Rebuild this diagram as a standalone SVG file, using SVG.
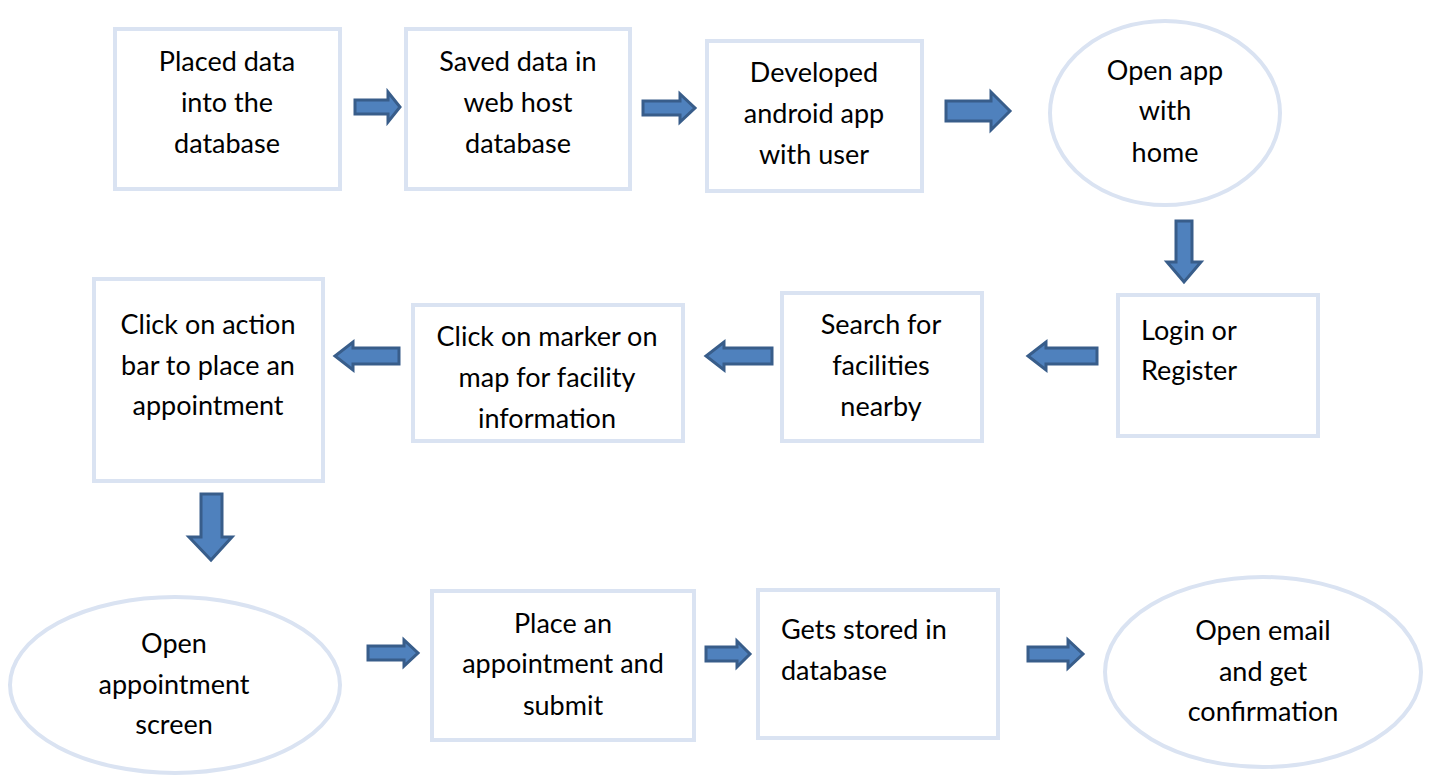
<svg xmlns="http://www.w3.org/2000/svg" width="1430" height="777" viewBox="0 0 1430 777">
<style>
.b{fill:#fff;stroke:#dae3f2;stroke-width:4}
.a{fill:#4f81bd;stroke:#385d8a;stroke-width:3;stroke-linejoin:miter}
text{font-family:Lato,"Open Sans","Liberation Sans",sans-serif;font-size:27px;fill:#000}
.c{text-anchor:middle}
</style>
<rect width="1430" height="777" fill="#fff"/>
<g id="connectors">
<path class="a" d="M355,100 L388,100 L388,92 L400,107 L388,122 L388,114 L355,114 Z"/>
<path class="a" d="M643,101 L680,101 L680,94 L695,108 L680,122 L680,115 L643,115 Z"/>
<path class="a" d="M946,101 L991,101 L991,92 L1010,111 L991,130 L991,121 L946,121 Z"/>
<path class="a" d="M1176,221 L1192,221 L1192,262 L1201,262 L1184,282 L1167,262 L1176,262 Z"/>
<path class="a" d="M1097,348 L1046,348 L1046,342 L1028,356 L1046,370 L1046,364 L1097,364 Z"/>
<path class="a" d="M772,348 L724,348 L724,342 L706,356 L724,370 L724,364 L772,364 Z"/>
<path class="a" d="M399,348 L353,348 L353,342 L335,356 L353,370 L353,364 L399,364 Z"/>
<path class="a" d="M201,494 L222,494 L222,537 L232,537 L211,560 L189,537 L201,537 Z"/>
<path class="a" d="M368,646 L404,646 L404,640 L418,653 L404,666 L404,660 L368,660 Z"/>
<path class="a" d="M706,647 L737,647 L737,641 L750,654 L737,667 L737,661 L706,661 Z"/>
<path class="a" d="M1028,647 L1068,647 L1068,640 L1083,654 L1068,668 L1068,661 L1028,661 Z"/>
</g>
<g id="n1"><rect class="b" x="115" y="29" width="225" height="160"/>
<text class="c" x="227" y="71">Placed data</text><text class="c" x="227" y="112">into the</text><text class="c" x="227" y="153">database</text></g>
<g id="n2"><rect class="b" x="406" y="29" width="224" height="160"/>
<text class="c" x="518" y="71">Saved data in</text><text class="c" x="518" y="112">web host</text><text class="c" x="518" y="153">database</text></g>
<g id="n3"><rect class="b" x="707" y="41" width="215" height="150"/>
<text class="c" x="814" y="82">Developed</text><text class="c" x="814" y="123">android app</text><text class="c" x="814" y="164">with user</text></g>
<g id="n4"><ellipse class="b" cx="1165" cy="113" rx="115" ry="92"/>
<text class="c" x="1165" y="80">Open app</text><text class="c" x="1165" y="120">with</text><text class="c" x="1165" y="162">home</text></g>
<g id="n5"><rect class="b" x="1118" y="295" width="200" height="141"/>
<text x="1141" y="340">Login or</text><text x="1141" y="380">Register</text></g>
<g id="n6"><rect class="b" x="782" y="293" width="200" height="148"/>
<text class="c" x="881" y="334">Search for</text><text class="c" x="881" y="375">facilities</text><text class="c" x="881" y="416">nearby</text></g>
<g id="n7"><rect class="b" x="413" y="305" width="270" height="136"/>
<text class="c" x="547" y="346">Click on marker on</text><text class="c" x="547" y="387">map for facility</text><text class="c" x="547" y="428">information</text></g>
<g id="n8"><rect class="b" x="94" y="279" width="229" height="202"/>
<text class="c" x="208" y="334">Click on action</text><text class="c" x="208" y="375">bar to place an</text><text class="c" x="208" y="415">appointment</text></g>
<g id="n9"><ellipse class="b" cx="175" cy="685" rx="165" ry="88"/>
<text class="c" x="174" y="653">Open</text><text class="c" x="174" y="694">appointment</text><text class="c" x="174" y="734">screen</text></g>
<g id="n10"><rect class="b" x="432" y="591" width="262" height="149"/>
<text class="c" x="563" y="633">Place an</text><text class="c" x="563" y="673">appointment and</text><text class="c" x="563" y="715">submit</text></g>
<g id="n11"><rect class="b" x="758" y="590" width="240" height="148"/>
<text x="781" y="639">Gets stored in</text><text x="781" y="680">database</text></g>
<g id="n12"><ellipse class="b" cx="1263" cy="672" rx="158" ry="95"/>
<text class="c" x="1263" y="640">Open email</text><text class="c" x="1263" y="681">and get</text><text class="c" x="1263" y="721">confirmation</text></g>
</svg>
